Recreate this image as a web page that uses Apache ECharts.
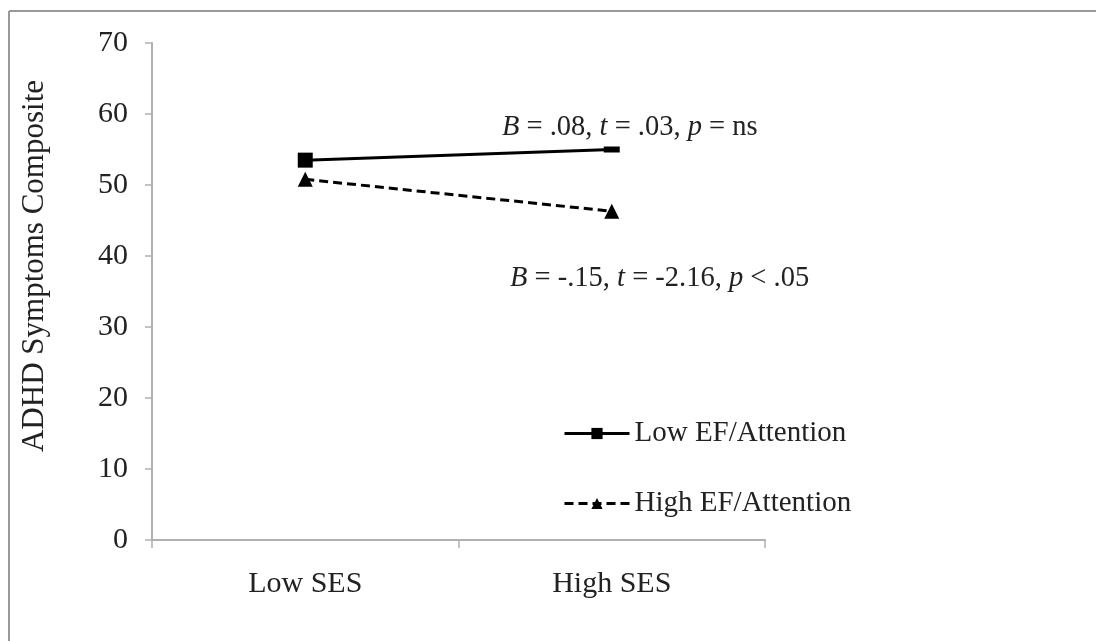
<!DOCTYPE html>
<html>
<head>
<meta charset="utf-8">
<script src="https://cdn.jsdelivr.net/npm/echarts@6/dist/echarts.min.js"></script>
<style>html,body{margin:0;padding:0;background:#fff;}#c{width:1096px;height:641px;}</style>
</head>
<body>
<div id="c"></div>
<script>
const categories = ['Low SES', 'High SES'];
const lowEF = [53.5, 55];
const highEF = [50.8, 46.3];
const seriesNames = ['Low EF/Attention', 'High EF/Attention'];
const yTicks = { min: 0, max: 70, interval: 10 };
const yName = 'ADHD Symptoms Composite';

const FONT = '"Liberation Serif", "DejaVu Serif", serif';
const chart = echarts.init(document.getElementById('c'));

const option = {
  backgroundColor: '#fff',
  animation: false,
  grid: { left: 152, right: 331, top: 43, bottom: 101 },
  xAxis: {
    type: 'category',
    data: categories,
    boundaryGap: true,
    axisLine: { lineStyle: { color: '#b0b0b0', width: 2 } },
    axisTick: { show: true, length: 8, alignWithLabel: false, lineStyle: { color: '#b0b0b0', width: 1.5 } },
    axisLabel: { color: '#222', fontFamily: FONT, fontSize: 30, margin: 29 },
    splitLine: { show: false }
  },
  yAxis: {
    type: 'value',
    min: yTicks.min, max: yTicks.max, interval: yTicks.interval,
    axisLine: { show: true, lineStyle: { color: '#b0b0b0', width: 2 } },
    axisTick: { show: true, length: 7, lineStyle: { color: '#b0b0b0', width: 1.5 } },
    axisLabel: { color: '#222', fontFamily: FONT, fontSize: 30, margin: 24 },
    splitLine: { show: false }
  },
  legend: [
    {
      data: [seriesNames[0]], left: 558, top: 414, itemWidth: 65, itemHeight: 14, itemGap: 5,
      lineStyle: { width: 3 },
      textStyle: { color: '#222', fontFamily: FONT, fontSize: 29 }
    },
    {
      data: [seriesNames[1]], left: 558, top: 484, itemWidth: 65, itemHeight: 14, itemGap: 5,
      lineStyle: { width: 3 },
      textStyle: { color: '#222', fontFamily: FONT, fontSize: 29 }
    }
  ],
  series: [
    {
      name: seriesNames[0], type: 'line', data: lowEF,
      symbol: 'rect',
      symbolSize: function (v, p) { return p && p.dataIndex === 1 ? [16, 6] : 15; },
      showAllSymbol: true,
      lineStyle: { color: '#000', width: 3, type: 'solid' },
      itemStyle: { color: '#000' }
    },
    {
      name: seriesNames[1], type: 'line', data: highEF,
      symbol: 'triangle', symbolSize: 15, showAllSymbol: true,
      lineStyle: { color: '#000', width: 3, type: [9, 5] },
      itemStyle: { color: '#000' }
    }
  ],
  graphic: [
    { type: 'line', shape: { x1: 9, y1: 11, x2: 1096, y2: 11 }, style: { stroke: '#999', lineWidth: 2 } },
    { type: 'line', shape: { x1: 9, y1: 11, x2: 9, y2: 641 }, style: { stroke: '#999', lineWidth: 2 } },
    {
      type: 'text', x: 35, y: 266, rotation: Math.PI / 2,
      style: { text: yName, fill: '#222', font: '31px ' + FONT, align: 'center', verticalAlign: 'middle' }
    },
    {
      type: 'text', x: 502, y: 128,
      style: {
        text: '{i|B} = .08, {i|t} = .03, {i|p} = ns',
        fill: '#222', font: '28.5px ' + FONT, verticalAlign: 'middle',
        rich: { i: { fontStyle: 'italic', fontFamily: FONT, fontSize: 28.5, fill: '#222' } }
      }
    },
    {
      type: 'text', x: 510, y: 279,
      style: {
        text: '{i|B} = -.15, {i|t} = -2.16, {i|p} < .05',
        fill: '#222', font: '28.5px ' + FONT, verticalAlign: 'middle',
        rich: { i: { fontStyle: 'italic', fontFamily: FONT, fontSize: 28.5, fill: '#222' } }
      }
    }
  ]
};
chart.setOption(option);
</script>
</body>
</html>
